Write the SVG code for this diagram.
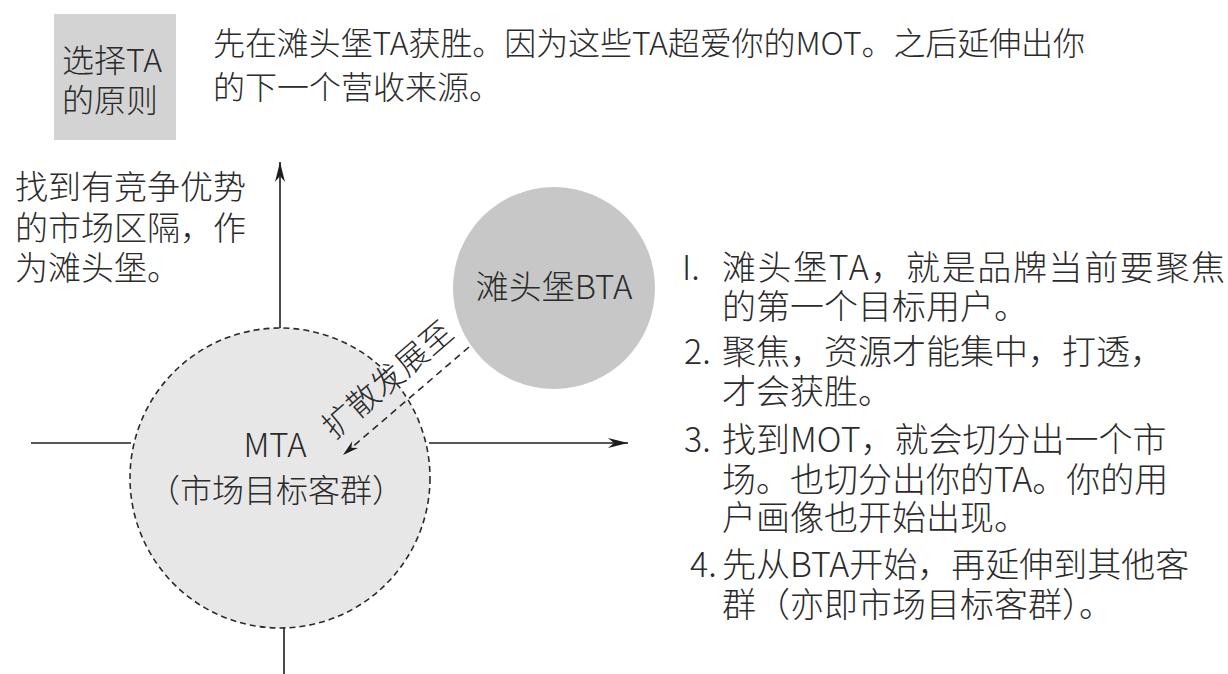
<svg xmlns="http://www.w3.org/2000/svg" width="1228" height="674" viewBox="0 0 1228 674">
<defs>
<style>
.t{font-family:"Noto Sans CJK SC","Noto Sans",sans-serif;fill:#2b2b2b;font-weight:300;}
.ax{stroke:#1e1e1e;stroke-width:1.6;fill:none;}
</style>
<marker id="ah" viewBox="-20 -6 22 12" refX="0" refY="0" markerWidth="22" markerHeight="12" markerUnits="userSpaceOnUse" orient="auto">
<path d="M0,0 L-20,-5 L-14,0 L-20,5 Z" fill="#1e1e1e"/>
</marker>
<marker id="ah2" viewBox="-16 -5 18 10" refX="0" refY="0" markerWidth="18" markerHeight="10" markerUnits="userSpaceOnUse" orient="auto">
<path d="M0,0 L-16,-4.5 L-11,0 L-16,4.5 Z" fill="#1e1e1e"/>
</marker>
</defs>
<rect width="1228" height="674" fill="#ffffff"/>

<g id="title-box">
<rect x="54" y="14" width="122" height="126" fill="#d3d3d3"/>
<text class="t" font-size="32"><tspan x="62" y="72">选择TA</tspan><tspan x="62" y="112">的原则</tspan></text>
</g>

<g id="title-text">
<text class="t" font-size="32"><tspan x="213" y="55" textLength="872" lengthAdjust="spacing">先在滩头堡TA获胜。因为这些TA超爱你的MOT。之后延伸出你</tspan><tspan x="213" y="99">的下一个营收来源。</tspan></text>
</g>

<g id="left-note">
<text class="t" font-size="33"><tspan x="15" y="199">找到有竞争优势</tspan><tspan x="15" y="240">的市场区隔，作</tspan><tspan x="15" y="280">为滩头堡。</tspan></text>
</g>

<g id="connectors">
<line class="ax" x1="280" y1="328" x2="280" y2="162" marker-end="url(#ah)"/>
<line class="ax" x1="284" y1="628" x2="284" y2="674"/>
<line class="ax" x1="31" y1="443" x2="131" y2="443"/>
<line class="ax" x1="429" y1="443" x2="628" y2="443" marker-end="url(#ah)"/>
</g>

<g id="mta">
<circle cx="280" cy="478" r="150" fill="#e7e7e7" stroke="#2b2b2b" stroke-width="1.6" stroke-dasharray="6 4"/>
<text class="t" x="275" y="457" font-size="33" text-anchor="middle">MTA</text>
<text class="t" x="276" y="502" font-size="32" text-anchor="middle">（市场目标客群）</text>
</g>

<g id="bta">
<circle cx="554" cy="288" r="101" fill="#c7c7c7"/>
<text class="t" x="554" y="299" font-size="33" text-anchor="middle">滩头堡BTA</text>
</g>

<g id="spread-connector">
<line x1="469" y1="347" x2="343" y2="455" stroke="#2b2b2b" stroke-width="1.6" stroke-dasharray="7 5" marker-end="url(#ah2)"/>
<text class="t" x="395" y="388" font-size="32" text-anchor="middle" transform="rotate(-40.6 395 388)">扩散发展至</text>
</g>

<g id="list">
<text class="t" font-size="34"><tspan x="682" y="280">I.</tspan><tspan x="722" y="280" textLength="503" lengthAdjust="spacing">滩头堡TA，就是品牌当前要聚焦</tspan><tspan x="722" y="319">的第一个目标用户。</tspan></text>
<text class="t" font-size="34"><tspan x="684" y="364">2.</tspan><tspan x="722" y="364">聚焦，资源才能集中，打透，</tspan><tspan x="722" y="404">才会获胜。</tspan></text>
<text class="t" font-size="34"><tspan x="684" y="452">3.</tspan><tspan x="722" y="452">找到MOT，就会切分出一个市</tspan><tspan x="722" y="492">场。也切分出你的TA。你的用</tspan><tspan x="722" y="530">户画像也开始出现。</tspan></text>
<text class="t" font-size="34"><tspan x="690" y="577">4.</tspan><tspan x="722" y="577">先从BTA开始，再延伸到其他客</tspan><tspan x="722" y="617">群（亦即市场目标客群）。</tspan></text>
</g>
</svg>
